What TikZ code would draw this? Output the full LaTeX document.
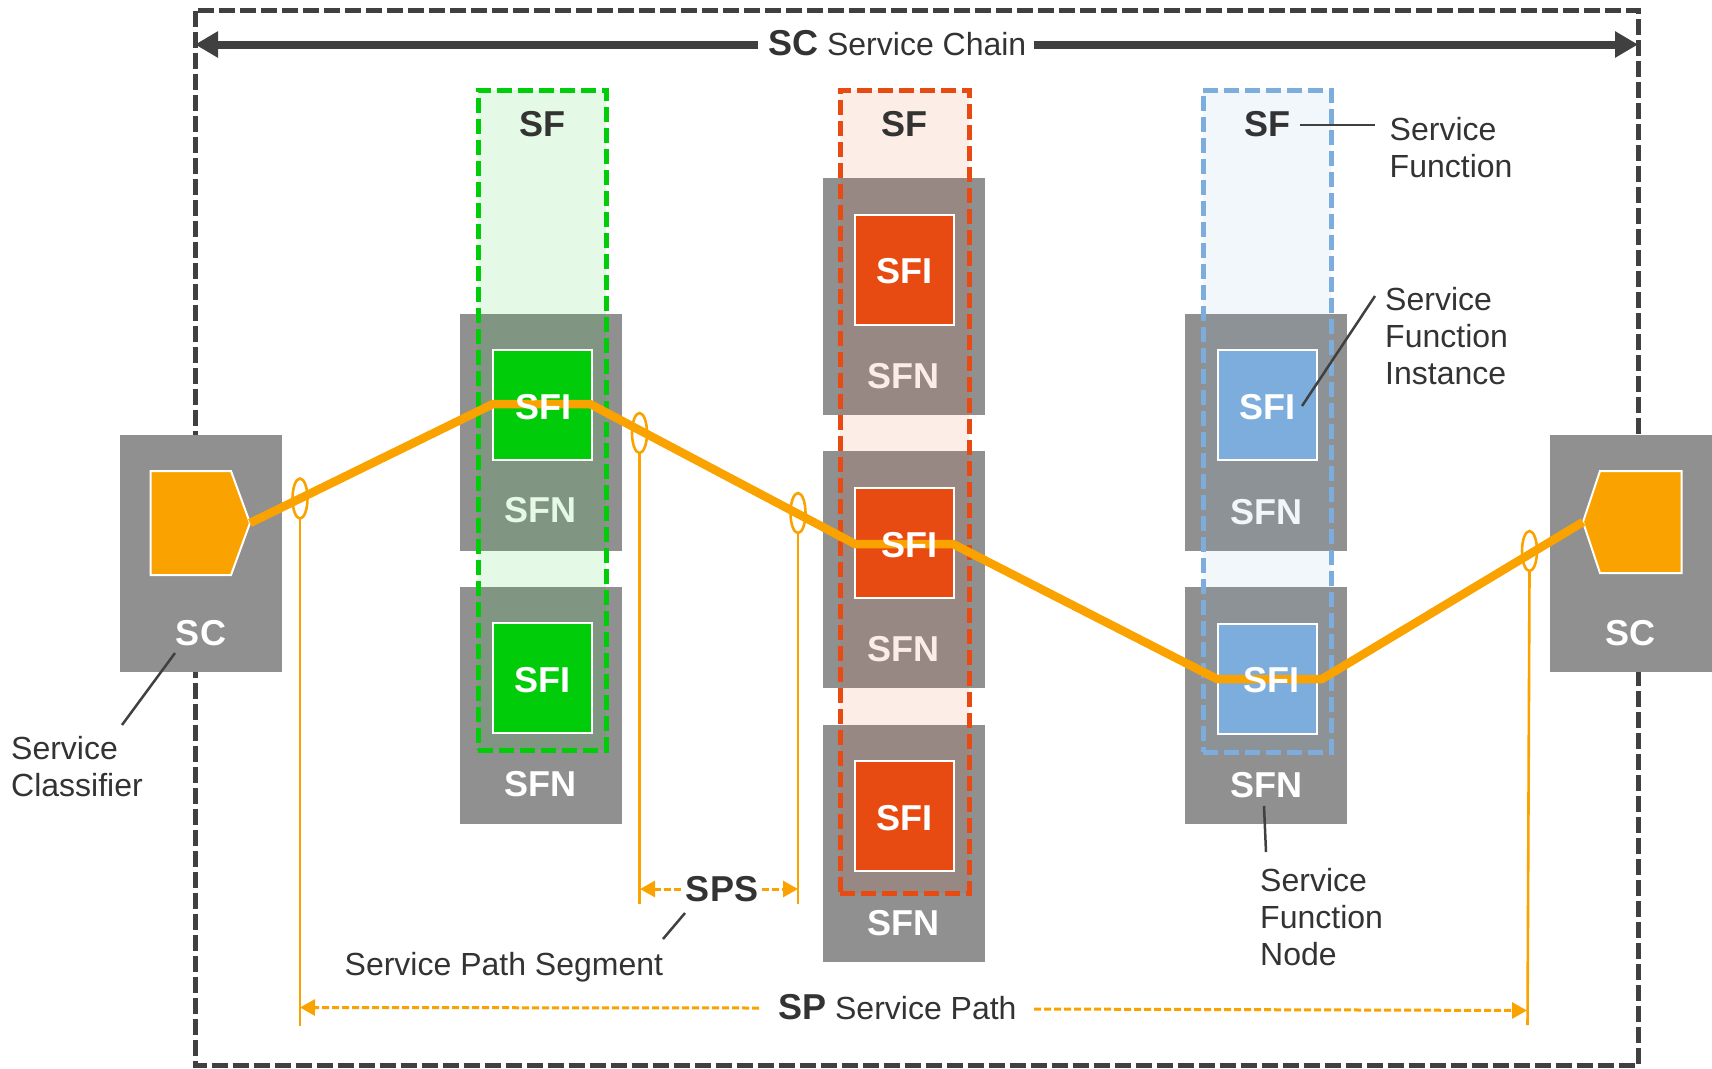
\documentclass[tikz,border=0pt]{standalone}
\usepackage{fontspec}
\setmainfont{Liberation Sans}
\usetikzlibrary{arrows.meta}
\definecolor{cdark}{HTML}{404040}
\definecolor{ctext}{HTML}{333333}
\definecolor{cgray}{HTML}{909090}
\definecolor{cgreen}{HTML}{00CC0A}
\definecolor{cred}{HTML}{E84B12}
\definecolor{cblue}{HTML}{7CADDC}
\definecolor{corange}{HTML}{FAA300}
\tikzset{
  host/.style={fill=cgray,inner sep=0,outer sep=0,minimum width=162,minimum height=237},
  sfcol/.style={inner sep=0,outer sep=0,line width=5,dash pattern=on 15 off 6,fill opacity=.1},
  sfi/.style={draw=white,line width=2,inner sep=0,outer sep=0,minimum width=99,minimum height=110},
  wlabel/.style={text=white,font=\fontsize{36}{40}\selectfont\bfseries,inner sep=0},
  bolddark/.style={text=ctext,font=\fontsize{36}{40}\selectfont\bfseries,inner sep=0},
  desc/.style={text=ctext,font=\fontsize{32}{37}\selectfont,inner sep=0,anchor=west,align=left},
  pointer/.style={draw=cdark,line width=2.5},
  thin/.style={draw=corange,line width=2.6},
  dimline/.style={draw=corange,line width=3,dash pattern=on 7 off 3,-{Triangle[length=15,width=16]}},
  pentagon/.style={fill=corange,draw=white,line width=2}
}
\begin{document}
\begin{tikzpicture}[x=1pt,y=-1pt]
\useasboundingbox (0,0) rectangle (1712,1068);
% outer frame
\draw[cdark,line width=5,dash pattern=on 16 off 5] (195,10.5) rectangle (1638.5,1065);
% top arrow
\node[inner sep=0,text=ctext,font=\fontsize{32}{37}\selectfont,anchor=west] (sc) at (768,43.5) {{\fontsize{36}{40}\selectfont\bfseries SC} Service Chain};
\coordinate (fl) at (195,44.5);
\coordinate (fr) at (1638,44.5);
\coordinate (scl) at (758,44.5);
\coordinate (scr) at (1034,44.5);
\draw[cdark,line width=8,-{Triangle[length=23,width=25]}] (scl) -- (fl);
\draw[cdark,line width=8,-{Triangle[length=23,width=25]}] (scr) -- (fr);
% hosts
\node[host] (scA) at (201,553.5) {};
\node[host] (scB) at (1631,553.5) {};
\node[host] (g1) at (541,432) {};
\node[host] (g2) at (541,705) {};
\node[host] (r1) at (904,296.5) {};
\node[host] (r2) at (904,569.5) {};
\node[host] (r3) at (904,843.5) {};
\node[host] (b1) at (1265.5,432.5) {};
\node[host] (b2) at (1265.5,705.5) {};
% SFN labels
\node[wlabel] (lg1) at (540.5,510) {SFN};
\node[wlabel] (lg2) at (540.5,784) {SFN};
\node[wlabel] (lr1) at (903.5,376) {SFN};
\node[wlabel] (lr2) at (903.5,649) {SFN};
\node[wlabel] (lr3) at (903.5,923) {SFN};
\node[wlabel] (lb1) at (1266.5,512) {SFN};
\node[wlabel] (lb2) at (1266.5,785) {SFN};
\node[wlabel] (lscA) at (201,633) {SC};
\node[wlabel] (lscB) at (1630.5,633) {SC};
% SF columns
\node[sfcol,draw=cgreen,fill=cgreen,minimum width=128,minimum height=660] (sfg) at (542.25,420) {};
\node[sfcol,draw=cred,fill=cred,minimum width=129,minimum height=803] (sfr) at (904.5,491.5) {};
\node[sfcol,draw=cblue,fill=cblue,minimum width=128,minimum height=662] (sfb) at (1267,421) {};
\node[bolddark] (sf1) at (542.6,124) {SF};
\node[bolddark] (sf2) at (904,124) {SF};
\node[bolddark] (sf3) at (1267.5,124) {SF};
% SFI boxes
\node[sfi,fill=cgreen] (ig1) at (542,404.5) {};
\node[sfi,fill=cgreen] (ig2) at (542,678) {};
\node[sfi,fill=cred] (ir1) at (904.5,269.5) {};
\node[sfi,fill=cred] (ir2) at (904.5,542.5) {};
\node[sfi,fill=cred] (ir3) at (904.5,816) {};
\node[sfi,fill=cblue] (ib1) at (1267.5,405) {};
\node[sfi,fill=cblue] (ib2) at (1267.5,679) {};
% classifiers
\coordinate (tipA) at (250,523);
\coordinate (tipB) at (1583,522);
\draw[pentagon] (150.5,471) -- (231,471) -- (tipA) -- (231,575) -- (150.5,575) -- cycle;
\draw[pentagon] (1681.5,471) -- (1600,471) -- (tipB) -- (1600,573) -- (1681.5,573) -- cycle;
% service path
\coordinate (p1) at (493,404);
\coordinate (p2) at (590,404);
\coordinate (p3) at (855,544);
\coordinate (p4) at (953,544);
\coordinate (p5) at (1217,679);
\coordinate (p6) at (1322,679);
\draw[corange,line width=8.5,line join=bevel] (tipA) -- (p1) -- (p2) -- (p3) -- (p4) -- (p5) -- (p6) -- (tipB);
% SFI labels
\node[wlabel] at (543.7,407) {SFI};
\node[wlabel] at (542.6,680) {SFI};
\node[wlabel] at (904.5,271) {SFI};
\node[wlabel] at (909.5,545) {SFI};
\node[wlabel] at (904.5,818) {SFI};
\node[wlabel] at (1267.5,407) {SFI};
\node[wlabel] at (1271,680) {SFI};
% ticks
\draw[thin] (300,498.5) ellipse (7.5 and 20);
\draw[thin] (639.5,433) ellipse (7.5 and 20);
\draw[thin] (798,513) ellipse (7.5 and 20);
\draw[thin] (1529.5,551) ellipse (7.5 and 20);
\coordinate (t1a) at (300,518.5); \coordinate (t1b) at (300,1026);
\coordinate (t2a) at (639.5,453); \coordinate (t2b) at (639.5,904);
\coordinate (t3a) at (798,533); \coordinate (t3b) at (798,904);
\coordinate (t4a) at (1529.5,571); \coordinate (t4b) at (1527.5,1025);
\draw[thin] (t1a) -- (t1b);
\draw[thin] (t2a) -- (t2b);
\draw[thin] (t3a) -- (t3b);
\draw[thin] (t4a) -- (t4b);
% SPS
\node[bolddark] (sps) at (722,889) {SPS};
\coordinate (sA) at (640,889); \coordinate (sB) at (798,889);
\coordinate (sC) at (681,889); \coordinate (sD) at (762,889);
\draw[dimline] (sC) -- (sA);
\draw[dimline] (sD) -- (sB);
% SP
\node[inner sep=0,text=ctext,font=\fontsize{32}{37}\selectfont,anchor=west] (sp) at (778,1007) {{\fontsize{36}{40}\selectfont\bfseries SP} Service Path};
\coordinate (pA) at (300,1007.5); \coordinate (pB) at (759,1008);
\coordinate (pC) at (1034,1009); \coordinate (pD) at (1527,1010.5);
\draw[dimline] (pB) -- (pA);
\draw[dimline] (pC) -- (pD);
% descriptions
\node[desc] (dclass) at (11,767) {Service\\Classifier};
\node[desc] (dsf) at (1389.5,147.5) {Service\\Function};
\node[desc] (dsfi) at (1385,336) {Service\\Function\\Instance};
\node[desc] (dsfn) at (1260,917) {Service\\Function\\Node};
\node[desc] (dsps) at (344.5,967) {Service Path Segment};
% pointers
\coordinate (a1) at (1300,125); \coordinate (a2) at (1375,125);
\coordinate (b3) at (1375,296); \coordinate (b4) at (1302,406);
\coordinate (c1) at (175,653); \coordinate (c2) at (122,725);
\coordinate (e1) at (1264,806); \coordinate (e2) at (1266,852);
\coordinate (f1) at (685,913); \coordinate (f2) at (663,939);
\draw[pointer] (a1) -- (a2);
\draw[pointer] (b3) -- (b4);
\draw[pointer] (c1) -- (c2);
\draw[pointer] (e1) -- (e2);
\draw[pointer] (f1) -- (f2);
\end{tikzpicture}
\end{document}
